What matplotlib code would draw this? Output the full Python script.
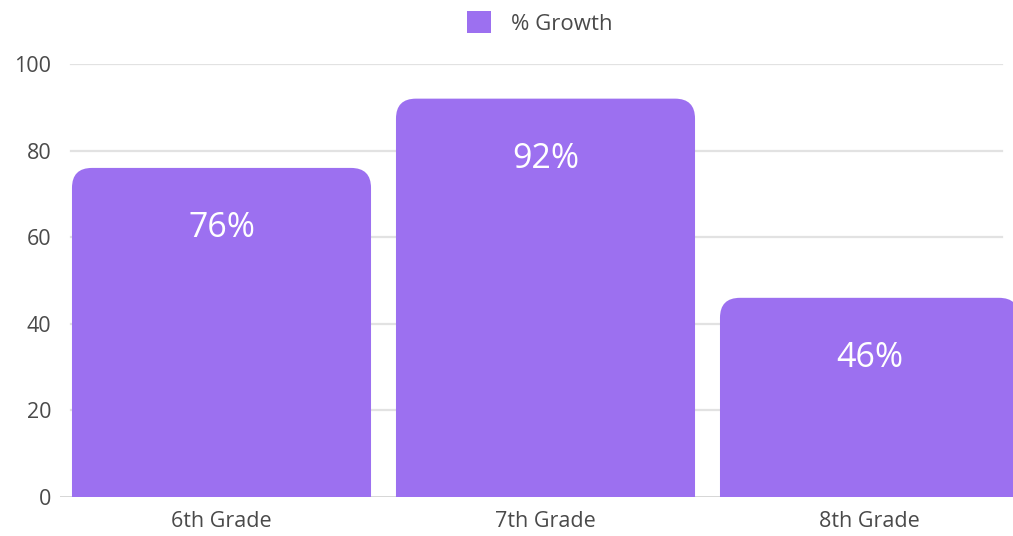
import numpy as np
import matplotlib
matplotlib.use('Agg')
import matplotlib.pyplot as plt
from matplotlib.patches import FancyBboxPatch, Patch

# data
grades = ['6th Grade', '7th Grade', '8th Grade']
growth = [76, 92, 46]
y_ticks = [0, 20, 40, 60, 80, 100]
series_name = '% Growth'

bar_color = '#9c70f0'
text_gray = '#4a4a4a'

plt.rcParams['font.family'] = ['Open Sans', 'DejaVu Sans']

W, H = 1013, 536
fig = plt.figure(figsize=(W / 100, H / 100), dpi=100)
# axes runs past the right edge, the last bar is cut off like in the picture
ax = fig.add_axes([59.5 / W, 39 / H, 972 / W, 433 / H])
ax.set_xlim(-0.5, len(grades) - 0.5)
ax.set_ylim(0, 100)

px_x = 972 / len(grades)   # pixels per x unit
px_y = 433 / 100           # pixels per y unit
radius_px = 20
bar_w = 0.923

for yt in y_ticks[1:]:
    ax.axhline(yt, xmin=0.012, xmax=0.97, color='#e2e2e2', lw=1.6, zorder=0)
ax.axhline(0, color='#d0d0d0', lw=1.2, zorder=0)

for i, v in enumerate(growth):
    x0 = i - bar_w / 2
    box = FancyBboxPatch((x0, -20), bar_w, v + 20,
                         boxstyle='round,pad=0,rounding_size=%f' % (radius_px / px_x),
                         mutation_aspect=px_x / px_y,
                         fc=bar_color, ec='none', zorder=2)
    ax.add_patch(box)
    ax.annotate('%d%%' % v, (i, v), xytext=(0, -60), textcoords='offset pixels',
                ha='center', va='center', color='white', fontsize=24.5, zorder=3)

ax.set_xticks(range(len(grades)))
ax.set_xticklabels(grades, fontsize=15.5, color=text_gray)
ax.set_yticks(y_ticks)
ax.set_yticklabels([str(t) for t in y_ticks], fontsize=15.5, color=text_gray)
ax.tick_params(length=0)
ax.tick_params(axis='x', pad=10)
ax.tick_params(axis='y', pad=6)
for s in ax.spines.values():
    s.set_visible(False)

fig.legend(handles=[Patch(fc=bar_color, ec='none', label=series_name)],
           loc='center', bbox_to_anchor=(540 / W, 1 - 23 / H), frameon=False,
           fontsize=16, labelcolor=text_gray, handlelength=1.1, handleheight=1.1,
           handletextpad=0.9)

fig.savefig('out.png', dpi=100)
